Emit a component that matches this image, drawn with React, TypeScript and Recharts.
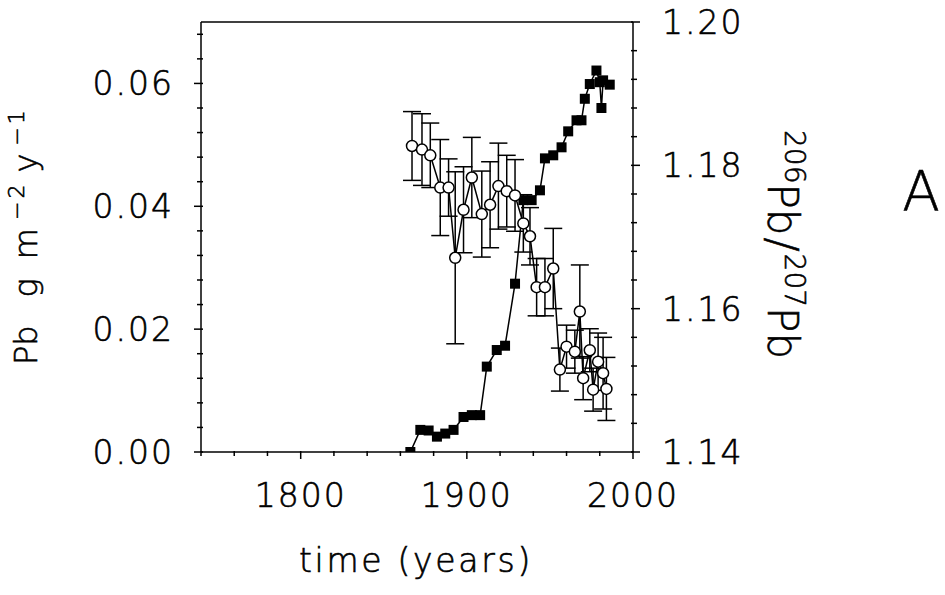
import { ComposedChart, Line, XAxis, YAxis, ErrorBar, ReferenceLine } from 'recharts';

// Pb flux (left axis), filled squares
const fluxYears = [1866, 1872, 1877, 1882, 1887, 1892, 1898, 1903, 1908, 1912, 1918, 1923, 1929, 1934, 1939, 1944, 1947, 1952, 1957, 1961, 1966, 1969, 1971, 1974, 1978, 1980, 1981, 1982, 1986];
const fluxValues = [0.0, 0.0036, 0.0035, 0.0025, 0.003, 0.0036, 0.0057, 0.006, 0.006, 0.0139, 0.0166, 0.0173, 0.0274, 0.041, 0.041, 0.0426, 0.0478, 0.0483, 0.0496, 0.0522, 0.054, 0.054, 0.0575, 0.0599, 0.0621, 0.0602, 0.056, 0.0605, 0.0598];

// 206Pb/207Pb (right axis), open circles with error bars
const ratioYears = [1867, 1873, 1878, 1884, 1889, 1893, 1898, 1903, 1909, 1914, 1919, 1924, 1929, 1934, 1938, 1942, 1947, 1952, 1956, 1960, 1965, 1968, 1970, 1974, 1976, 1979, 1982, 1984];
const ratioValues = [1.1827, 1.1822, 1.1814, 1.1769, 1.1769, 1.1671, 1.1738, 1.1783, 1.1732, 1.1745, 1.1771, 1.1764, 1.1758, 1.1719, 1.1701, 1.163, 1.163, 1.1656, 1.1515, 1.1547, 1.154, 1.1596, 1.1503, 1.1542, 1.1487, 1.1526, 1.151, 1.1488];
const ratioErrors = [0.0048, 0.005, 0.0045, 0.0067, 0.004, 0.012, 0.006, 0.0056, 0.006, 0.006, 0.006, 0.005, 0.005, 0.004, 0.004, 0.004, 0.004, 0.0056, 0.003, 0.003, 0.003, 0.0065, 0.003, 0.003, 0.003, 0.004, 0.005, 0.0044];

const xTicks = [1740, 1760, 1780, 1800, 1820, 1840, 1860, 1880, 1900, 1920, 1940, 1960, 1980, 2000];
const xLabels = [1800, 1900, 2000];
const leftTicks = [0, 0.004, 0.008, 0.012, 0.016, 0.02, 0.024, 0.028, 0.032, 0.036, 0.04, 0.044, 0.048, 0.052, 0.056, 0.06, 0.064, 0.068];
const leftLabels = [0, 0.02, 0.04, 0.06];
const rightTicks = [1.14, 1.144, 1.148, 1.152, 1.156, 1.16, 1.164, 1.168, 1.172, 1.176, 1.18, 1.184, 1.188, 1.192, 1.196, 1.2];
const rightLabels = [1.14, 1.16, 1.18, 1.2];

const fluxData = fluxYears.map((year, i) => ({ year, flux: fluxValues[i] }));
const ratioData = ratioYears.map((year, i) => ({ year, ratio: ratioValues[i], err: ratioErrors[i] }));

const FONT = '"DejaVu Sans", sans-serif';
const txt = { fontFamily: FONT, fontWeight: 200, fill: '#000', stroke: '#000', strokeWidth: 0.6 };
const isLabel = (list: number[], v: number) => list.some((l) => Math.abs(l - v) < 1e-9);

function XTick({ x, y, payload }: any) {
  const major = isLabel(xLabels, payload.value);
  return (
    <g>
      <line x1={x} y1={y - 1} x2={x} y2={y + (major ? 7 : 4)} stroke="#000" strokeWidth={1.5} />
      {major && (
        <text x={x} y={y + 55} textAnchor="middle" fontSize={33} letterSpacing={2} {...txt}>
          {payload.value}
        </text>
      )}
    </g>
  );
}

function LeftTick({ x, y, payload }: any) {
  const major = isLabel(leftLabels, payload.value);
  return (
    <g>
      <line x1={x + 2} y1={y} x2={x - (major ? 7 : 4)} y2={y} stroke="#000" strokeWidth={1.5} />
      {major && (
        <text x={x - 27} y={y + 12} textAnchor="end" fontSize={33} letterSpacing={2} {...txt}>
          {payload.value.toFixed(2)}
        </text>
      )}
    </g>
  );
}

function RightTick({ x, y, payload }: any) {
  const major = isLabel(rightLabels, payload.value);
  return (
    <g>
      <line x1={x - 2} y1={y} x2={x + (major ? 7 : 4)} y2={y} stroke="#000" strokeWidth={1.5} />
      {major && (
        <text x={x + 29} y={y + 12} textAnchor="start" fontSize={33} letterSpacing={2} {...txt}>
          {payload.value.toFixed(2)}
        </text>
      )}
    </g>
  );
}

const SquareDot = ({ cx, cy }: any) => <rect x={cx - 5} y={cy - 5} width={10} height={10} fill="#000" />;
const CircleDot = ({ cx, cy }: any) => <circle cx={cx} cy={cy} r={5.5} fill="#fff" stroke="#000" strokeWidth={1.5} />;

export default function App() {
  return (
    <div style={{ position: 'absolute', left: 0, top: 0, width: 945, height: 595, background: '#fff' }}>
      <ComposedChart width={945} height={595} margin={{ top: 22, right: 0, bottom: 0, left: 0 }}>
        <XAxis
          dataKey="year" type="number" domain={[1740, 2000]} ticks={xTicks} allowDataOverflow
          height={143} tickSize={0} tickMargin={0} tickLine={false} interval={0}
          axisLine={{ stroke: '#000', strokeWidth: 1.5 }} tick={<XTick />}
        />
        <YAxis
          yAxisId="left" orientation="left" domain={[0, 0.07]} ticks={leftTicks} allowDataOverflow
          width={201} tickSize={0} tickMargin={0} tickLine={false} interval={0}
          axisLine={{ stroke: '#000', strokeWidth: 1.5 }} tick={<LeftTick />}
        />
        <YAxis
          yAxisId="right" orientation="right" domain={[1.14, 1.2]} ticks={rightTicks} allowDataOverflow
          width={312} tickSize={0} tickMargin={0} tickLine={false} interval={0}
          axisLine={{ stroke: '#000', strokeWidth: 1.5 }} tick={<RightTick />}
        />
        <ReferenceLine yAxisId="left" y={0.07} stroke="#000" strokeWidth={1.5} />
        <Line
          yAxisId="left" data={fluxData} dataKey="flux" stroke="#000" strokeWidth={1.5}
          dot={<SquareDot />} activeDot={false} isAnimationActive={false}
        />
        <Line
          yAxisId="right" data={ratioData} dataKey="ratio" stroke="#000" strokeWidth={1.5}
          dot={<CircleDot />} activeDot={false} isAnimationActive={false}
        >
          <ErrorBar dataKey="err" width={9} stroke="#000" strokeWidth={1.5} direction="y" />
        </Line>
        <text x={37} y={365} transform="rotate(-90 37 365)" fontSize={32} {...txt}>
          <tspan>Pb</tspan>
          <tspan dx={28}>g</tspan>
          <tspan dx={19}>m</tspan>
          <tspan dx={8} dy={-13} fontSize={22} letterSpacing={3}>−2</tspan>
          <tspan dx={9} dy={13}>y</tspan>
          <tspan dx={8} dy={-13} fontSize={22} letterSpacing={3}>−1</tspan>
        </text>
        <text x={768} y={130} transform="rotate(90 768 130)" fontSize={42} {...txt}>
          <tspan dy={-17} fontSize={28}>206</tspan>
          <tspan dy={17}>Pb</tspan>
          <tspan dx={2}>/</tspan>
          <tspan dx={2} dy={-17} fontSize={28}>207</tspan>
          <tspan dy={17}>Pb</tspan>
        </text>
        <text x={921} y={210} textAnchor="middle" fontSize={55} {...txt}>A</text>
        <text x={416} y={572} textAnchor="middle" fontSize={33} letterSpacing={2.7} {...txt}>time (years)</text>
      </ComposedChart>
    </div>
  );
}
